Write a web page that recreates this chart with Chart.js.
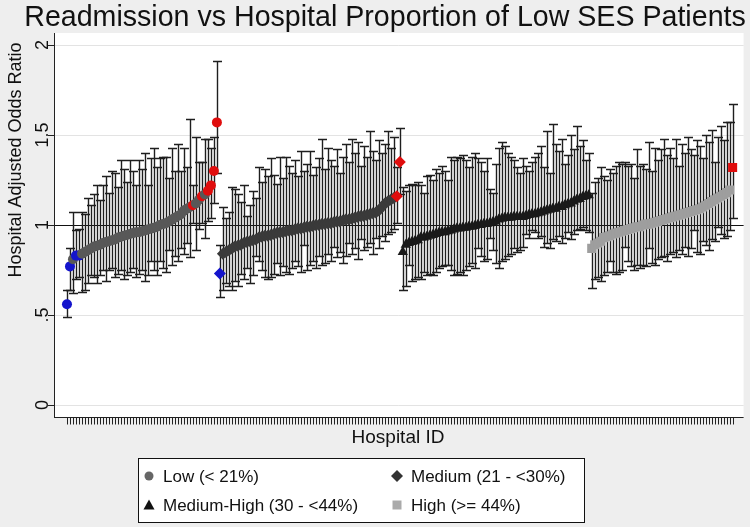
<!DOCTYPE html>
<html>
<head>
<meta charset="utf-8">
<title>Readmission vs Hospital Proportion of Low SES Patients</title>
<script src="https://cdn.jsdelivr.net/npm/chart.js@4.4.1/dist/chart.umd.min.js"></script>
<style>
  body { margin: 0; background: #eeeeee; }
  canvas { display: block; }
</style>
</head>
<body>
<canvas id="readmissionChart" width="750" height="527"></canvas>
<script>
// Chart data -------------------------------------------------------------------------------

// Legend labels for the four hospital groups
const groupLabels = ['Low (< 21%)', 'Medium (21 - <30%)', 'Medium-High (30 - <44%)', 'High (>= 44%)'];

// Low group: adjusted odds ratio with lower / upper confidence limits (sorted by odds ratio)
const lowOR = [0.56,0.77,0.81,0.83,0.83,0.84,0.85,0.86,0.87,0.88, 0.885,0.89,0.90,0.905,0.91,0.915,0.92,0.93,0.935,0.94,
               0.945,0.95,0.955,0.96,0.96,0.965,0.97,0.975,0.98,0.985, 0.99,1.00,1.005,1.01,1.02,1.03,1.04,1.05,1.06,1.08,
               1.09,1.10,1.11,1.12,1.14,1.16,1.17,1.19,1.22,1.30, 1.57];
const lowLo = [0.49,0.64,0.62,0.70,0.71,0.63,0.64,0.68,0.72,0.71, 0.68,0.72,0.75,0.69,0.75,0.76,0.71,0.73,0.75,0.70,
               0.72,0.74,0.76,0.71,0.73,0.75,0.69,0.72,0.80,0.75, 0.72,0.80,0.76,0.74,0.86,0.78,0.83,0.80,0.87,0.84,
               0.90,0.82,1.01,0.86,0.98,1.01,0.93,1.02,1.04,1.12, 1.29];
const lowHi = [0.64,0.87,1.07,0.97,0.98,1.07,1.06,1.15,1.11,1.17, 1.22,1.14,1.22,1.27,1.18,1.30,1.29,1.21,1.36,1.31,
               1.24,1.36,1.30,1.22,1.36,1.31,1.40,1.22,1.37,1.43, 1.32,1.37,1.38,1.38,1.26,1.43,1.30,1.45,1.30,1.43,
               1.32,1.59,1.22,1.49,1.35,1.35,1.48,1.48,1.43,1.49, 1.91];

// Medium group
const medOR = [0.73,0.84,0.85,0.86,0.87,0.88,0.885,0.89,0.90,0.905, 0.91,0.915,0.92,0.93,0.935,0.94,0.94,0.945,0.95,0.955,
               0.96,0.96,0.965,0.97,0.97,0.975,0.98,0.98,0.985,0.99, 0.99,0.995,1.00,1.00,1.005,1.005,1.01,1.01,1.015,1.02,
               1.02,1.025,1.03,1.03,1.035,1.04,1.045,1.05,1.05,1.055, 1.06,1.065,1.07,1.08,1.10,1.12,1.13,1.14,1.15,1.16,
               1.35];
const medLo = [0.60,0.64,0.68,0.66,0.64,0.69,0.66,0.73,0.70,0.76, 0.68,0.72,0.83,0.80,0.75,0.71,0.70,0.71,0.73,0.79,
               0.72,0.77,0.74,0.73,0.76,0.80,0.77,0.74,0.89,0.75, 0.78,0.80,0.76,0.83,0.78,0.79,0.84,0.80,0.88,0.82,
               0.85,0.79,0.83,0.90,0.84,0.87,0.81,0.92,0.86,0.88, 0.90,0.84,0.93,0.87,0.94,0.91,0.95,0.96,0.98,1.01,
               1.17];
const medHi = [0.89,1.10,1.04,1.07,1.21,1.20,1.17,1.13,1.22,1.05, 1.11,1.19,1.15,1.32,1.24,1.31,1.27,1.37,1.28,1.23,
               1.38,1.26,1.38,1.33,1.29,1.36,1.27,1.41,1.30,1.34, 1.41,1.28,1.32,1.37,1.48,1.31,1.43,1.36,1.33,1.42,
               1.29,1.38,1.45,1.35,1.48,1.40,1.46,1.33,1.44,1.38, 1.52,1.41,1.36,1.47,1.40,1.45,1.52,1.43,1.49,1.32,
               1.54];

// Medium-High group
const mhOR = [0.85,0.89,0.90,0.905,0.91,0.915,0.93,0.93,0.935,0.94, 0.945,0.95,0.955,0.96,0.96,0.965,0.97,0.975,0.98,0.98,
              0.985,0.985,0.99,0.99,0.995,1.00,1.00,1.005,1.005,1.01, 1.015,1.02,1.03,1.035,1.04,1.04,1.04,1.045,1.045,1.045,
              1.045,1.05,1.055,1.06,1.06,1.065,1.07,1.075,1.08,1.085, 1.09,1.09,1.10,1.10,1.11,1.115,1.12,1.13,1.14,1.145,
              1.155,1.16,1.165];
const mhLo = [0.64,0.66,0.78,0.69,0.70,0.71,0.70,0.74,0.72,0.73, 0.72,0.74,0.76,0.77,0.78,0.78,0.75,0.72,0.73,0.74,
              0.72,0.75,0.77,0.79,0.76,0.87,0.83,0.80,0.81,0.93, 0.86,0.79,0.76,0.80,0.81,0.83,0.84,0.87,0.85,0.86,
              0.88,0.95,0.93,0.97,0.96,0.93,0.94,0.88,0.90,0.87, 0.92,0.91,0.94,0.90,0.93,0.96,0.92,0.95,0.97,0.98,
              0.99,0.97,0.96];
const mhHi = [1.21,1.19,1.22,1.23,1.22,1.24,1.22,1.18,1.27,1.28, 1.25,1.31,1.29,1.33,1.30,1.25,1.38,1.36,1.38,1.37,
              1.39,1.36,1.32,1.38,1.40,1.37,1.35,1.30,1.37,1.20, 1.18,1.34,1.43,1.46,1.44,1.40,1.38,1.36,1.32,1.29,
              1.37,1.33,1.30,1.35,1.38,1.40,1.44,1.32,1.52,1.29, 1.56,1.45,1.41,1.48,1.34,1.39,1.50,1.42,1.55,1.44,
              1.47,1.36,1.40];

// High group
const highOR = [0.87,0.89,0.90,0.91,0.93,0.935,0.94,0.95,0.955,0.96, 0.965,0.97,0.975,0.98,0.985,0.99,0.99,1.00,1.005,1.005,
                1.01,1.015,1.02,1.025,1.03,1.035,1.04,1.045,1.05,1.055, 1.06,1.065,1.07,1.075,1.08,1.085,1.09,1.10,1.11,1.12,
                1.13,1.14,1.15,1.16,1.17,1.18,1.195,1.32];
const highLo = [0.65,0.70,0.71,0.69,0.72,0.74,0.80,0.74,0.73,0.74, 0.75,0.88,0.80,0.77,0.75,0.78,0.76,0.78,0.77,0.87,
                0.79,0.78,0.81,0.82,0.83,0.80,0.84,0.85,0.82,0.86, 0.84,0.88,0.83,0.87,0.97,0.85,0.84,0.91,0.89,0.86,
                0.92,0.91,0.99,0.95,0.93,0.94,0.97,1.04];
const highHi = [1.18,1.24,1.26,1.32,1.27,1.25,1.31,1.29,1.33,1.35, 1.34,1.35,1.33,1.34,1.26,1.42,1.33,1.34,1.31,1.46,
                1.30,1.43,1.36,1.42,1.48,1.39,1.43,1.37,1.48,1.33, 1.45,1.40,1.49,1.42,1.39,1.47,1.44,1.37,1.50,1.46,
                1.53,1.35,1.49,1.55,1.47,1.57,1.57,1.67];

// Y axis ticks and the reference line
const yTicks = [0, 0.5, 1, 1.5, 2];
const yTickLabels = ['0', '.5', '1', '1.5', '2'];
const refValue = 1;

// Styling ----------------------------------------------------------------------------------

const FONT = '"Liberation Sans", Arial, sans-serif';
const BLUE = '#1414cc';
const RED = '#e00d0d';
const BAR_COLOR = '#1e1e1e';

// One entry per group: data arrays plus marker look
const groups = [
    { label: groupLabels[0], or: lowOR,  lo: lowLo,  hi: lowHi,  color: '#585858', style: 'circle',   radius: 5 },
    { label: groupLabels[1], or: medOR,  lo: medLo,  hi: medHi,  color: '#3a3a3a', style: 'rectRot',  radius: 6 },
    { label: groupLabels[2], or: mhOR,   lo: mhLo,   hi: mhHi,   color: '#1a1a1a', style: 'triangle', radius: 6 },
    { label: groupLabels[3], or: highOR, lo: highLo, hi: highHi, color: '#9e9e9e', style: 'rect',     radius: 6.4 }
];

// Build the scatter datasets, hospitals numbered one after another across the groups
let hospitalId = 1;
const datasets = groups.map(g => {
    const points = g.or.map((v, i) => ({ x: hospitalId + i, y: v, lo: g.lo[i], hi: g.hi[i] }));
    hospitalId += g.or.length;
    // blue = significantly below 1, red = significantly above 1
    const colors = points.map(p => p.hi < refValue ? BLUE : (p.lo > refValue ? RED : g.color));
    return {
        label: g.label,
        data: points,
        pointStyle: g.style,
        pointRadius: g.radius,
        pointBackgroundColor: colors,
        pointBorderColor: colors,
        pointBorderWidth: 0,
        pointHoverRadius: g.radius
    };
});
const hospitalCount = hospitalId - 1;

// Plugins ----------------------------------------------------------------------------------

// Background, plot region, grid lines and the y = 1 reference line
const backdrop = {
    id: 'backdrop',
    beforeDraw(chart) {
        const { ctx, chartArea: a, scales: { y } } = chart;
        ctx.save();
        ctx.fillStyle = '#eeeeee';
        ctx.fillRect(0, 0, chart.width, chart.height);
        ctx.fillStyle = '#ffffff';
        ctx.fillRect(a.left, a.top, a.right - a.left, a.bottom - a.top);

        yTicks.forEach(v => {
            const py = Math.round(y.getPixelForValue(v)) + 0.5;
            ctx.beginPath();
            ctx.moveTo(a.left, py);
            ctx.lineTo(a.right, py);
            if (v === refValue) {
                ctx.strokeStyle = '#111111';
                ctx.lineWidth = 1.2;
            } else {
                ctx.strokeStyle = '#e3e3e3';
                ctx.lineWidth = 1;
            }
            ctx.stroke();
        });
        ctx.restore();
    }
};

// Confidence interval caps for every hospital
const errorBars = {
    id: 'errorBars',
    beforeDatasetsDraw(chart) {
        const { ctx, scales: { x, y } } = chart;
        ctx.save();
        ctx.strokeStyle = BAR_COLOR;
        ctx.lineWidth = 1.4;
        chart.data.datasets.forEach(ds => {
            ds.data.forEach(p => {
                const px = Math.round(x.getPixelForValue(p.x)) + 0.5;
                const top = Math.round(y.getPixelForValue(p.hi)) + 0.5;
                const bottom = Math.round(y.getPixelForValue(p.lo)) + 0.5;
                ctx.beginPath();
                ctx.moveTo(px, top);
                ctx.lineTo(px, bottom);
                ctx.moveTo(px - 4.5, top);
                ctx.lineTo(px + 4.5, top);
                ctx.moveTo(px - 4.5, bottom);
                ctx.lineTo(px + 4.5, bottom);
                ctx.stroke();
            });
        });
        ctx.restore();
    }
};

// Axis lines, tick marks and all the text
const decorations = {
    id: 'decorations',
    afterDraw(chart) {
        const { ctx, chartArea: a, scales: { x, y } } = chart;
        ctx.save();
        ctx.strokeStyle = '#222222';
        ctx.lineWidth = 1;

        // y axis line and ticks
        ctx.beginPath();
        ctx.moveTo(a.left + 0.5, a.top);
        ctx.lineTo(a.left + 0.5, a.bottom);
        yTicks.forEach(v => {
            const py = Math.round(y.getPixelForValue(v)) + 0.5;
            ctx.moveTo(a.left - 6, py);
            ctx.lineTo(a.left, py);
        });
        ctx.stroke();

        // x axis line and one tick per hospital
        const axisY = a.bottom + 0.5;
        ctx.beginPath();
        ctx.moveTo(a.left, axisY);
        ctx.lineTo(a.right, axisY);
        for (let i = 1; i <= hospitalCount; i++) {
            const px = Math.round(x.getPixelForValue(i)) + 0.5;
            ctx.moveTo(px, axisY);
            ctx.lineTo(px, axisY + 7);
        }
        ctx.stroke();

        ctx.fillStyle = '#111111';

        // Title
        ctx.font = '28.6px ' + FONT;
        ctx.textAlign = 'center';
        ctx.textBaseline = 'alphabetic';
        ctx.fillText('Readmission vs Hospital Proportion of Low SES Patients', 385, 26);

        // Y tick labels, turned on their side
        ctx.font = '18px ' + FONT;
        yTicks.forEach((v, i) => {
            ctx.save();
            ctx.translate(48, y.getPixelForValue(v));
            ctx.rotate(-Math.PI / 2);
            ctx.fillText(yTickLabels[i], 0, 0);
            ctx.restore();
        });

        // Y axis title
        ctx.save();
        ctx.translate(21, 160);
        ctx.rotate(-Math.PI / 2);
        ctx.fillText('Hospital Adjusted Odds Ratio', 0, 0);
        ctx.restore();

        // X axis title
        ctx.font = '19px ' + FONT;
        ctx.fillText('Hospital ID', 398, 443);

        // Legend box
        ctx.fillStyle = '#ffffff';
        ctx.fillRect(138, 458, 446, 64);
        ctx.strokeStyle = '#111111';
        ctx.strokeRect(138.5, 458.5, 446, 64);

        const slots = [[149, 476], [397, 476], [149, 505], [397, 505]];
        const legendColors = ['#666666', '#333333', '#111111', '#aaaaaa'];
        ctx.font = '17px ' + FONT;
        ctx.textAlign = 'left';
        ctx.textBaseline = 'middle';
        groups.forEach((g, i) => {
            const [mx, my] = slots[i];
            ctx.fillStyle = legendColors[i];
            ctx.beginPath();
            if (g.style === 'circle') {
                ctx.arc(mx, my, 4.5, 0, Math.PI * 2);
            } else if (g.style === 'rectRot') {
                ctx.moveTo(mx, my - 6); ctx.lineTo(mx + 6, my); ctx.lineTo(mx, my + 6); ctx.lineTo(mx - 6, my);
            } else if (g.style === 'triangle') {
                ctx.moveTo(mx, my - 5.5); ctx.lineTo(mx + 5.5, my + 4.5); ctx.lineTo(mx - 5.5, my + 4.5);
            } else {
                ctx.rect(mx - 4.5, my - 4.5, 9, 9);
            }
            ctx.closePath();
            ctx.fill();
            ctx.fillStyle = '#111111';
            ctx.fillText(g.label, mx + 14, my + 1);
        });
        ctx.restore();
    }
};

// Chart ------------------------------------------------------------------------------------

const ctx = document.getElementById('readmissionChart').getContext('2d');

new Chart(ctx, {
    type: 'scatter',
    data: { datasets: datasets },
    options: {
        responsive: false,
        animation: false,
        devicePixelRatio: 1,
        layout: { padding: { left: 54, right: 5, top: 33, bottom: 110 } },
        scales: {
            x: { type: 'linear', display: false, min: -3.33, max: hospitalCount + 3.66 },
            y: { type: 'linear', display: false, min: -0.0667, max: 2.0667 }
        },
        plugins: {
            legend: { display: false },
            tooltip: { enabled: false }
        }
    },
    plugins: [backdrop, errorBars, decorations]
});
</script>
</body>
</html>
